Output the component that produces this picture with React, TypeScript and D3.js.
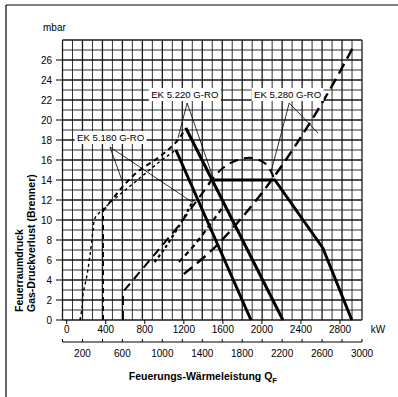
import React from "react";
import * as d3 from "d3";

// ---- data (burner output kW on the upper scale, pressure in mbar) ----
const yTicks = [0, 2, 4, 6, 8, 10, 12, 14, 16, 18, 20, 22, 24, 26];
const xTopTicks = [0, 400, 800, 1200, 1600, 2000, 2400, 2800];
const xBottomTicks = [200, 600, 1000, 1400, 1800, 2200, 2600, 3000];

const ek180Field: [number, number][] = [
  [136, 0], [157, 1.2], [167, 2.5], [208, 4.5], [239, 6.5], [269, 8.9], [290, 10.2],
  [341, 10.8], [443, 11.7], [576, 12.8], [750, 14.2], [935, 15.7], [1119, 17],
];
const ek180Max: [number, number][] = [[1119, 17], [1888, 0]];

const ek220Field: [number, number][] = [
  [372, 0], [372, 10.9], [494, 12.4], [617, 13.8], [750, 15], [904, 16], [1037, 17],
  [1140, 18], [1221, 19.2],
];
const ek220Max: [number, number][] = [[1221, 19.2], [2215, 0]];

const ek280Field: [number, number][] = [[576, 0], [576, 2.8], [1129, 9.2], [1488, 14]];
const ek280Max: [number, number][] = [[1488, 14], [2133, 14], [2624, 7.2], [2921, 0]];
const ek280Arc: [number, number][] = [[1450, 13.6], [1600, 15.2], [1750, 16], [1900, 16.2], [2040, 15.6], [2120, 14.3]];

const gas180: [number, number][] = [[900, 5.8], [1000, 7.1], [1100, 8.6], [1200, 10.2], [1300, 12]];
const gas220: [number, number][] = [[1150, 5.8], [1300, 7.4], [1450, 9.3], [1600, 11.3]];
const gas280: [number, number][] = [
  [1200, 4.6], [1500, 7.1], [1800, 10.3], [2100, 14], [2400, 18.3], [2700, 23.1], [2930, 27.2],
];

const labels = [
  { text: "EK 5.180 G-RO", at: [450, 17.9], anchor: [443, 17.3], to: [[576, 13.7], [1284, 11.8]] },
  { text: "EK 5.220 G-RO", at: [1210, 22.2], anchor: [1234, 21.7], to: [[1140, 18.2], [1501, 14.2]] },
  { text: "EK 5.280 G-RO", at: [2263, 22.2], anchor: [2280, 21.7], to: [[2093, 14.8], [2575, 18.7]] },
];

const W = 398;
const H = 397;

export default function App() {
  const xN = d3.scaleLinear().domain([0, 2800]).range([66.7, 340]);
  const xF = d3.scaleLinear().domain([0, 3000]).range([62.5, 362]);
  const y = d3.scaleLinear().domain([0, 28]).range([320, 40]);

  const lin = d3.line<[number, number]>().x((d) => xN(d[0])).y((d) => y(d[1]));
  const smooth = d3
    .line<[number, number]>()
    .x((d) => xN(d[0]))
    .y((d) => y(d[1]))
    .curve(d3.curveCatmullRom.alpha(0.5));

  const vGrid = d3.range(0, 3001, 100);
  const hGrid = d3.range(0, 29, 1);
  const font = "'Liberation Sans', Arial, Helvetica, sans-serif";

  return (
    <svg
      width={W}
      height={H}
      style={{ position: "absolute", left: 0, top: 0, background: "#fff" }}
      fontFamily={font}
    >
      <rect x={0} y={0} width={W} height={H} fill="#fff" />
      {/* frame */}
      <line x1={6} y1={5} x2={W} y2={5} stroke="#000" strokeWidth={1.2} />
      <line x1={6} y1={5} x2={6} y2={H} stroke="#000" strokeWidth={1.2} />

      {/* grid */}
      <g stroke="#1a1a1a">
        {vGrid.map((v) => (
          <line key={"v" + v} x1={xF(v)} x2={xF(v)} y1={y(0)} y2={y(28)} strokeWidth={v % 200 === 0 ? 1.3 : 0.9} />
        ))}
        {hGrid.map((v) => (
          <line key={"h" + v} x1={xF(0)} x2={xF(3000)} y1={y(v)} y2={y(v)} strokeWidth={v % 2 === 0 ? 1.3 : 0.9} />
        ))}
      </g>

      {/* y axis ticks & labels */}
      {yTicks.map((t) => (
        <g key={"yt" + t}>
          <line x1={56} x2={xF(0)} y1={y(t)} y2={y(t)} stroke="#000" strokeWidth={1} />
          <text x={52} y={y(t) + 3.5} textAnchor="end" fontSize={10}>
            {t}
          </text>
        </g>
      ))}
      <text x={43} y={31} fontSize={10}>mbar</text>

      {/* upper x axis (burner kW) */}
      {xTopTicks.map((t) => (
        <g key={"xt" + t}>
          <line x1={xN(t)} x2={xN(t)} y1={320} y2={324} stroke="#000" />
          <text x={xN(t)} y={333} textAnchor="middle" fontSize={10}>
            {t}
          </text>
        </g>
      ))}
      <text x={378} y={333} textAnchor="middle" fontSize={10}>kW</text>

      {/* lower x axis (Feuerungs-Wärmeleistung) */}
      <line x1={xF(0)} x2={xF(3000)} y1={342} y2={342} stroke="#000" strokeWidth={1.2} />
      {d3.range(0, 3001, 200).map((t) => (
        <line key={"bt" + t} x1={xF(t)} x2={xF(t)} y1={339} y2={342} stroke="#000" />
      ))}
      {xBottomTicks.map((t) => (
        <text key={"bl" + t} x={xF(t)} y={357} textAnchor="middle" fontSize={10}>
          {t}
        </text>
      ))}
      <text x={203} y={380} textAnchor="middle" fontSize={10.5} fontWeight="bold">
        Feuerungs-Wärmeleistung Q<tspan fontSize={8} dy={3}>F</tspan>
      </text>

      {/* y titles */}
      <text transform="translate(23,312) rotate(-90)" fontSize={10.5} fontWeight="bold">
        Feuerraumdruck
      </text>
      <text transform="translate(35,312) rotate(-90)" fontSize={10.5} fontWeight="bold">
        Gas-Druckverlust (Brenner)
      </text>

      {/* working fields */}
      <path d={smooth(ek180Field) || ""} fill="none" stroke="#000" strokeWidth={1.4} strokeDasharray="3,3" />
      <path d={lin(ek220Field.slice(0, 2)) || ""} fill="none" stroke="#000" strokeWidth={2} strokeDasharray="5,4" />
      <path d={smooth(ek220Field.slice(1)) || ""} fill="none" stroke="#000" strokeWidth={2} strokeDasharray="5,4" />
      <path d={lin(ek280Field) || ""} fill="none" stroke="#000" strokeWidth={2} strokeDasharray="9,6" />
      <path d={smooth(ek280Arc) || ""} fill="none" stroke="#000" strokeWidth={2} strokeDasharray="9,6" />

      <path d={lin(ek180Max) || ""} fill="none" stroke="#000" strokeWidth={3} />
      <path d={lin(ek220Max) || ""} fill="none" stroke="#000" strokeWidth={3} />
      <path d={lin(ek280Max) || ""} fill="none" stroke="#000" strokeWidth={3} strokeLinejoin="round" />

      {/* gas pressure loss curves */}
      <path d={smooth(gas180) || ""} fill="none" stroke="#000" strokeWidth={2.2} strokeDasharray="3,3" />
      <path d={smooth(gas220) || ""} fill="none" stroke="#000" strokeWidth={2.2} strokeDasharray="5,4" />
      <path d={smooth(gas280) || ""} fill="none" stroke="#000" strokeWidth={2.4} strokeDasharray="11,6" />

      {/* labels with leader lines */}
      {labels.map((l) => {
        const cx = xN(l.at[0]);
        const cy = y(l.at[1]);
        return (
          <g key={l.text}>
            {l.to.map((p, i) => (
              <line
                key={i}
                x1={xN(l.anchor[0])}
                y1={y(l.anchor[1])}
                x2={xN(p[0])}
                y2={y(p[1])}
                stroke="#000"
                strokeWidth={0.8}
              />
            ))}
            <rect x={cx - 36} y={cy - 10} width={72} height={13} fill="#fff" />
            <text x={cx} y={cy} textAnchor="middle" fontSize={9.6}>
              {l.text}
            </text>
          </g>
        );
      })}
    </svg>
  );
}
